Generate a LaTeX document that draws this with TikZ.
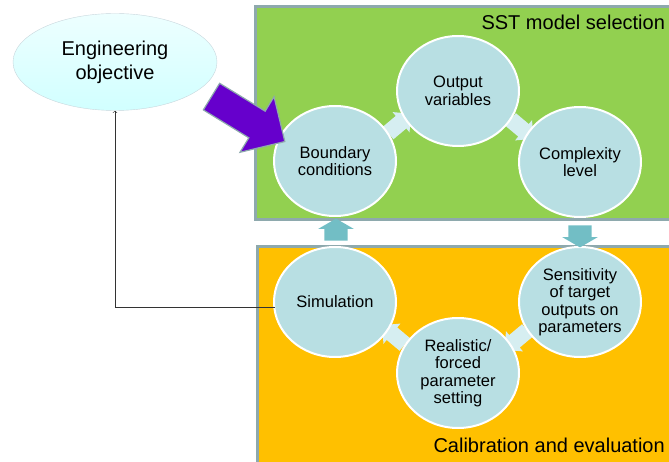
\documentclass[tikz,border=0pt]{standalone}
\usepackage{fontspec}
\setmainfont{Liberation Sans}
\usetikzlibrary{shapes.geometric,shapes.arrows,calc}
\definecolor{panelgreen}{HTML}{92D050}
\definecolor{panelorange}{HTML}{FFC000}
\definecolor{panelrim}{HTML}{8EA9AD}
\definecolor{stepfill}{HTML}{B8DFE3}
\definecolor{chevfill}{HTML}{D6EEF1}
\definecolor{linkteal}{HTML}{72BEC5}
\definecolor{goalpurple}{HTML}{6600CC}
\begin{document}
\begin{tikzpicture}[x=1pt,y=-1pt,
    stage/.style={ellipse,fill=stepfill,draw=white,line width=2pt,minimum width=122pt,minimum height=110pt,inner sep=0pt,align=center,font=\fontsize{16.5}{17.5}\selectfont},
    chev/.style={single arrow,fill=chevfill,minimum height=30pt,inner xsep=0pt,inner ysep=8pt,single arrow head extend=5pt},
    linkarrow/.style={single arrow,fill=linkteal,minimum height=22pt,inner xsep=0pt,inner ysep=11.5pt,single arrow head extend=6pt,single arrow tip angle=120},
    panel/.style={draw=panelrim,line width=3pt}]
    \useasboundingbox (0,0) rectangle (669,462);
    \clip (0,0) rectangle (669,462);

    \coordinate (pbc) at (335,161);
    \coordinate (pov) at (458,91);
    \coordinate (pcl) at (580,162);
    \coordinate (psim) at (335,302);
    \coordinate (psens) at (580,302);
    \coordinate (ppar) at (458,373);

    \fill[panel,fill=panelgreen] (255,7) rectangle (720,220);
    \fill[panel,fill=panelorange] (257,247) rectangle (720,490);
    \draw[panel] (255,7) rectangle (720,220);
    \draw[panel] (257,247) rectangle (720,490);

    \node[anchor=base west,font=\fontsize{20}{24}\selectfont] (top) at (478,30) {SST model selection};
    \node[anchor=base west,font=\fontsize{20}{24}\selectfont] (bottom) at (430,452) {Calibration and evaluation};

    \node[chev,rotate=40] (c1) at ($(pbc)!0.5!(pov)$) {};
    \node[chev,rotate=-40] (c2) at ($(pov)!0.5!(pcl)$) {};
    \node[chev,rotate=220] (c3) at ($(psens)!0.5!(ppar)$) {};
    \node[chev,rotate=140] (c4) at ($(ppar)!0.5!(psim)$) {};

    \node[ellipse,draw=cyan!25!gray!40,top color=cyan!7,bottom color=cyan!18,minimum width=204pt,minimum height=97pt,align=center,font=\fontsize{20}{24}\selectfont] (obj) at (115,62) {Engineering\\objective};

    \node[stage] (bc) at (pbc) {Boundary\\conditions};
    \node[stage] (ov) at (pov) {Output\\variables};
    \node[stage] (cl) at (pcl) {Complexity\\level};
    \node[stage] (sim) at (psim) {Simulation};
    \node[stage] (sens) at (psens) {Sensitivity\\of target\\outputs on\\parameters};
    \node[stage] (par) at (ppar) {Realistic/\\forced\\parameter\\setting};

    \node[linkarrow,rotate=90] (up) at (336,233) {};
    \node[linkarrow,rotate=-90] (down) at (580,233) {};

    \node[single arrow,fill=goalpurple,draw=panelrim,line width=1.2pt,rotate=-31.5,minimum height=86pt,inner xsep=0pt,inner ysep=15pt,single arrow head extend=17pt] (goal) at (241.5,115) {};

    \coordinate (fb) at (275,307);
    \draw[->,black!80,line width=0.6pt] (fb) -| (obj.south);
\end{tikzpicture}
\end{document}
